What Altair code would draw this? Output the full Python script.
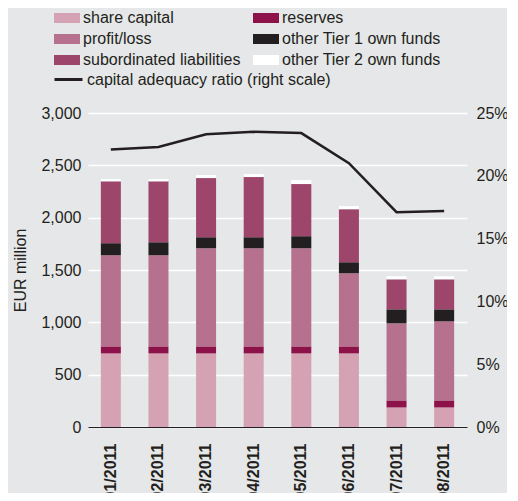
import altair as alt
import pandas as pd

months = ["01/2011", "02/2011", "03/2011", "04/2011", "05/2011", "06/2011", "07/2011", "08/2011"]
components = ["share capital", "reserves", "profit/loss", "other Tier 1 own funds",
              "subordinated liabilities", "other Tier 2 own funds"]
share_capital = [703, 703, 703, 703, 703, 703, 187, 187]
reserves = [67, 67, 67, 67, 67, 67, 67, 67]
profit_loss = [871, 871, 938, 938, 938, 699, 736, 756]
tier1_other = [115, 124, 105, 105, 115, 105, 134, 114]
subordinated = [591, 582, 565, 575, 498, 507, 287, 287]
tier2_other = [21, 21, 29, 28, 38, 29, 29, 29]
ratio = [22.1, 22.3, 23.3, 23.5, 23.4, 21.0, 17.1, 17.2]
line_label = "capital adequacy ratio (right scale)"

component_colors = {
    "share capital": "#d4a2b3",
    "reserves": "#8c1249",
    "profit/loss": "#b5718d",
    "other Tier 1 own funds": "#231f20",
    "subordinated liabilities": "#9d456a",
    "other Tier 2 own funds": "#ffffff",
}
# legend fills column by column
legend_order = ["share capital", "profit/loss", "subordinated liabilities",
                "reserves", "other Tier 1 own funds", "other Tier 2 own funds"]
dark = "#231f20"
font = "Liberation Sans"

series = [share_capital, reserves, profit_loss, tier1_other, subordinated, tier2_other]
rows = []
for i, m in enumerate(months):
    for j, name in enumerate(components):
        rows.append({"month": m, "component": name, "value": series[j][i], "order": j})
bars_df = pd.DataFrame(rows)
line_df = pd.DataFrame({"month": months, "ratio": ratio, "series": [line_label] * len(months)})

x = alt.X(
    "month:N", sort=months,
    scale=alt.Scale(paddingInner=0.58, paddingOuter=0.27),
    axis=alt.Axis(title=None, labelAngle=-90, labelFontWeight="bold", labelFontSize=16,
                  labelPadding=16, ticks=False, domainColor=dark, domainWidth=1,
                  labelColor=dark, grid=False),
)

bars = alt.Chart(bars_df).mark_bar(strokeWidth=0).encode(
    x=x,
    y=alt.Y("value:Q", stack="zero",
            scale=alt.Scale(domain=[0, 3000], nice=False),
            axis=alt.Axis(values=[0, 500, 1000, 1500, 2000, 2500, 3000], format=",.0f",
                          title="EUR million", titleFontSize=16, titleFontWeight="normal",
                          titleColor=dark, titlePadding=12, labelFontSize=16,
                          labelColor=dark, labelPadding=7, ticks=False, domain=False,
                          grid=True, gridColor="#ffffff", gridWidth=1.5)),
    color=alt.Color("component:N",
                    scale=alt.Scale(domain=legend_order,
                                    range=[component_colors[c] for c in legend_order]),
                    legend=alt.Legend(orient="none", legendX=-34, legendY=-108, columns=2,
                                      title=None, symbolType="M-1,-0.385H1V0.385H-1Z",
                                      symbolSize=676, symbolStrokeWidth=0, labelFontSize=16,
                                      labelColor=dark, labelOffset=3, columnPadding=12,
                                      rowPadding=-1, labelLimit=400, padding=0)),
    order=alt.Order("order:Q"),
)

line = alt.Chart(line_df).mark_line(strokeWidth=2.5).encode(
    x=x,
    y=alt.Y("ratio:Q",
            scale=alt.Scale(domain=[0, 25], nice=False),
            axis=alt.Axis(orient="right", values=[0, 5, 10, 15, 20, 25],
                          labelExpr="datum.value + '%'", title=None, grid=False,
                          ticks=False, domain=False, labelFontSize=16, labelColor=dark,
                          labelPadding=9)),
    stroke=alt.Stroke("series:N", scale=alt.Scale(range=[dark]),
                      legend=alt.Legend(orient="none", legendX=-35, legendY=-49, title=None,
                                        symbolType="stroke", symbolSize=784,
                                        symbolStrokeWidth=3, labelFontSize=16,
                                        labelColor=dark, labelOffset=3, labelLimit=400,
                                        padding=0)),
)

chart = alt.layer(bars, line).resolve_scale(y="independent").properties(
    width=379, height=314,
    autosize=alt.AutoSizeParams(type="none"),
    padding={"left": 80, "top": 105, "right": 40, "bottom": 66},
    background="#e6e7e8",
).configure(font=font).configure_view(stroke=None)

chart.save("out.html", embed_options={"renderer": "svg", "actions": False})
